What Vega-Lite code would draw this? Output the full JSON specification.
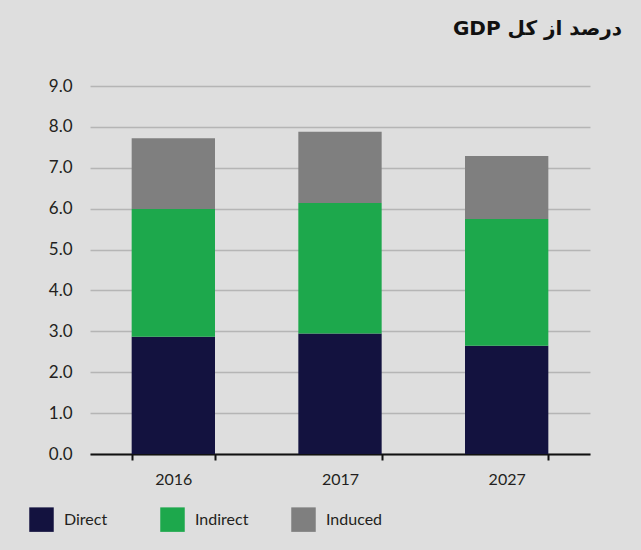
{
  "$schema": "https://vega.github.io/schema/vega-lite/v6.json",
  "autosize": {"type": "none"},
  "width": 500,
  "height": 368,
  "padding": {"left": 90, "top": 86, "right": 51, "bottom": 96},
  "background": "#dedede",
  "title": {
    "text": "\u202Bدرصد از کل GDP\u202C",
    "anchor": "end",
    "frame": "group",
    "dx": 32,
    "offset": 38,
    "font": "DejaVu Sans",
    "fontSize": 20,
    "fontWeight": "bold",
    "color": "#111111"
  },
  "data": {
    "values": [
      {"year": "2016", "type": "Direct", "value": 2.87, "order": 1},
      {"year": "2016", "type": "Indirect", "value": 3.12, "order": 2},
      {"year": "2016", "type": "Induced", "value": 1.73, "order": 3},
      {"year": "2017", "type": "Direct", "value": 2.95, "order": 1},
      {"year": "2017", "type": "Indirect", "value": 3.19, "order": 2},
      {"year": "2017", "type": "Induced", "value": 1.74, "order": 3},
      {"year": "2027", "type": "Direct", "value": 2.65, "order": 1},
      {"year": "2027", "type": "Indirect", "value": 3.10, "order": 2},
      {"year": "2027", "type": "Induced", "value": 1.54, "order": 3}
    ]
  },
  "mark": {"type": "bar"},
  "encoding": {
    "x": {
      "field": "year",
      "type": "nominal",
      "scale": {"paddingInner": 0.5, "paddingOuter": 0.25},
      "axis": {
        "title": null,
        "labelAngle": 0,
        "labelFont": "Lato",
        "labelFontSize": 16,
        "labelColor": "#231f20",
        "labelPadding": 11,
        "domainColor": "#111111",
        "domainWidth": 2,
        "tickColor": "#111111",
        "tickWidth": 2,
        "tickSize": 6,
        "tickBand": "extent",
        "grid": false
      }
    },
    "y": {
      "field": "value",
      "type": "quantitative",
      "stack": "zero",
      "scale": {"domain": [0, 9]},
      "axis": {
        "title": null,
        "values": [0, 1, 2, 3, 4, 5, 6, 7, 8, 9],
        "format": ".1f",
        "labelFont": "Lato",
        "labelFontSize": 17,
        "labelColor": "#231f20",
        "labelPadding": 18,
        "ticks": false,
        "domain": false,
        "grid": true,
        "gridColor": "#b5b5b5",
        "gridWidth": 1.5
      }
    },
    "color": {
      "field": "type",
      "type": "nominal",
      "scale": {
        "domain": ["Direct", "Indirect", "Induced"],
        "range": ["#13123f", "#1da84c", "#7f7f7f"]
      },
      "legend": {
        "title": null,
        "orient": "none",
        "legendX": -61,
        "legendY": 421,
        "direction": "horizontal",
        "symbolType": "square",
        "symbolSize": 600,
        "symbolStrokeWidth": 0,
        "labelFont": "Lato",
        "labelFontSize": 16,
        "labelColor": "#231f20",
        "labelOffset": 10,
        "gridAlign": "all",
        "columnPadding": 39
      }
    },
    "order": {"field": "order", "type": "quantitative"}
  },
  "config": {"view": {"stroke": null}}
}
